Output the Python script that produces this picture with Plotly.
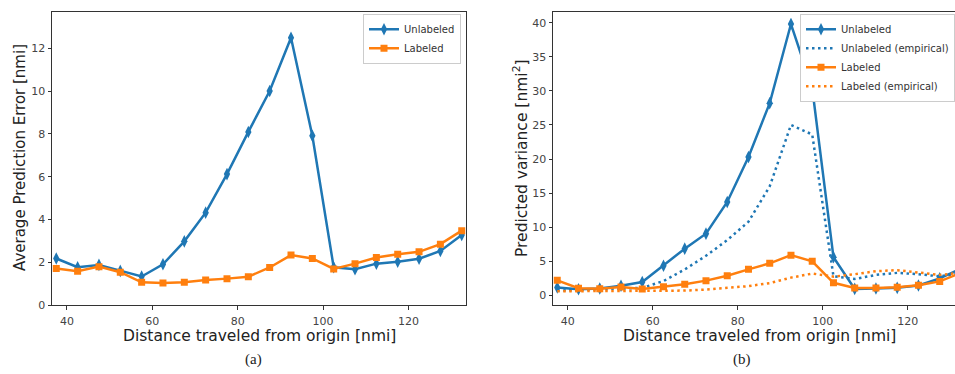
import plotly.graph_objects as go

W, H = 955, 374

# ---------------- data ----------------
distance = [37.5, 42.5, 47.5, 52.5, 57.5, 62.5, 67.5, 72.5, 77.5, 82.5,
            87.5, 92.5, 97.5, 102.5, 107.5, 112.5, 117.5, 122.5, 127.5, 132.5]

# (a) average prediction error [nmi]
err_unlabeled = [2.18, 1.77, 1.88, 1.60, 1.34, 1.91, 2.98, 4.32, 6.12, 8.09,
                 10.0, 12.49, 7.91, 1.77, 1.68, 1.94, 2.03, 2.17, 2.53, 3.28]
err_labeled = [1.71, 1.59, 1.80, 1.54, 1.07, 1.04, 1.07, 1.18, 1.24, 1.33,
               1.76, 2.34, 2.18, 1.69, 1.94, 2.23, 2.38, 2.49, 2.85, 3.48]

# (b) predicted variance [nmi^2]
var_unlabeled = [1.15, 0.9, 1.0, 1.4, 1.95, 4.35, 6.85, 9.05, 13.7, 20.3,
                 28.2, 39.8, 30.4, 5.6, 0.95, 1.0, 1.1, 1.45, 2.5, 3.9]
var_unlabeled_emp = [0.7, 0.8, 0.9, 1.0, 1.1, 2.1, 3.8, 5.8, 8.1, 10.8,
                     16.0, 25.0, 23.6, 2.8, 2.4, 3.0, 3.3, 3.1, 2.8, 3.2]
var_labeled = [2.2, 1.05, 0.98, 1.22, 0.93, 1.25, 1.63, 2.16, 2.88, 3.82,
               4.7, 5.9, 5.0, 1.85, 1.08, 1.08, 1.18, 1.47, 2.05, 3.3]
var_labeled_emp = [0.6, 0.6, 0.65, 0.7, 0.65, 0.6, 0.7, 0.85, 1.05, 1.35,
                   1.8, 2.6, 3.2, 2.75, 3.1, 3.55, 3.7, 3.4, 3.0, 3.3]

x_ticks = [40, 60, 80, 100, 120]
err_ticks = [0, 2, 4, 6, 8, 10, 12]
var_ticks = [0, 5, 10, 15, 20, 25, 30, 35, 40]

BLUE = "#1f77b4"
ORANGE = "#ff7f0e"
FONT = "DejaVu Sans"
DOTS = "2.5px,3.5px"

fig = go.Figure()

# left panel
fig.add_trace(go.Scatter(x=distance, y=err_unlabeled, mode="lines+markers", name="Unlabeled",
                         line=dict(color=BLUE, width=2.5),
                         marker=dict(symbol="diamond-tall", size=9, color=BLUE),
                         xaxis="x", yaxis="y", legend="legend"))
fig.add_trace(go.Scatter(x=distance, y=err_labeled, mode="lines+markers", name="Labeled",
                         line=dict(color=ORANGE, width=2.5),
                         marker=dict(symbol="square", size=7, color=ORANGE),
                         xaxis="x", yaxis="y", legend="legend"))

# right panel
fig.add_trace(go.Scatter(x=distance, y=var_unlabeled, mode="lines+markers", name="Unlabeled",
                         line=dict(color=BLUE, width=2.5),
                         marker=dict(symbol="diamond-tall", size=9, color=BLUE),
                         xaxis="x2", yaxis="y2", legend="legend2"))
fig.add_trace(go.Scatter(x=distance, y=var_unlabeled_emp, mode="lines", name="Unlabeled (empirical)",
                         line=dict(color=BLUE, width=2.5, dash=DOTS),
                         xaxis="x2", yaxis="y2", legend="legend2"))
fig.add_trace(go.Scatter(x=distance, y=var_labeled, mode="lines+markers", name="Labeled",
                         line=dict(color=ORANGE, width=2.5),
                         marker=dict(symbol="square", size=7, color=ORANGE),
                         xaxis="x2", yaxis="y2", legend="legend2"))
fig.add_trace(go.Scatter(x=distance, y=var_labeled_emp, mode="lines", name="Labeled (empirical)",
                         line=dict(color=ORANGE, width=2.5, dash=DOTS),
                         xaxis="x2", yaxis="y2", legend="legend2"))

y_top = 1 - 12 / H
y_bot = 1 - 311 / H

axis_common = dict(showgrid=False, zeroline=False, ticks="outside", ticklen=3.5,
                   tickwidth=1, tickcolor="#333", linecolor="#333", linewidth=1,
                   tickfont=dict(family=FONT, size=11, color="#444"), showline=True)

legend_common = dict(bgcolor="white", bordercolor="#cccccc", borderwidth=1,
                     font=dict(family=FONT, size=10, color="#333"),
                     tracegroupgap=0, itemwidth=30)

fig.update_layout(
    width=W, height=H,
    margin=dict(l=0, r=0, t=0, b=0),
    paper_bgcolor="white", plot_bgcolor="white",
    showlegend=True,
    xaxis=dict(domain=[52 / W, 466 / W], range=[36.5, 133.5], tickvals=x_ticks,
               mirror=True, anchor="y", ticklabelstandoff=2, **axis_common),
    yaxis=dict(domain=[y_bot, y_top], range=[0, 13.7], tickvals=err_ticks,
               mirror=True, anchor="x", **axis_common),
    xaxis2=dict(domain=[553 / W, 1.0], range=[36.5, 131.1], tickvals=x_ticks,
                mirror=True, anchor="y2", ticklabelstandoff=2, **axis_common),
    yaxis2=dict(domain=[y_bot, y_top], range=[-1.44, 41.6], tickvals=var_ticks,
                mirror=False, anchor="x2", **axis_common),
    legend=dict(x=461 / W, y=1 - 14 / H, xanchor="right", yanchor="top", **legend_common),
    legend2=dict(x=1.0, y=1 - 14 / H, xanchor="right", yanchor="top", **legend_common),
)

title_font = dict(family=FONT, size=15.5, color="#222")
annotations = [
    dict(text="Distance traveled from origin [nmi]", x=259 / W, y=1 - 342 / H,
         xref="paper", yref="paper", showarrow=False, font=title_font,
         xanchor="center", yanchor="middle"),
    dict(text="Distance traveled from origin [nmi]", x=759 / W, y=1 - 342 / H,
         xref="paper", yref="paper", showarrow=False, font=title_font,
         xanchor="center", yanchor="middle"),
    dict(text="Average Prediction Error [nmi]", x=20 / W, y=1 - 161 / H, textangle=-90,
         xref="paper", yref="paper", showarrow=False,
         font=dict(family=FONT, size=15, color="#222"),
         xanchor="center", yanchor="middle"),
    dict(text="Predicted variance [nmi<sup>2</sup>]", x=521 / W, y=1 - 161 / H, textangle=-90,
         xref="paper", yref="paper", showarrow=False, font=title_font,
         xanchor="center", yanchor="middle"),
    dict(text="(a)", x=253 / W, y=1 - 366 / H, xref="paper", yref="paper", showarrow=False,
         font=dict(family="Liberation Serif", size=15, color="#222"),
         xanchor="center", yanchor="middle"),
    dict(text="(b)", x=742 / W, y=1 - 366 / H, xref="paper", yref="paper", showarrow=False,
         font=dict(family="Liberation Serif", size=15, color="#222"),
         xanchor="center", yanchor="middle"),
]
fig.update_layout(annotations=annotations)

fig.write_html("out.html", config={"displayModeBar": False},
               post_script="document.body.style.margin='0';document.body.style.overflow='hidden';")
